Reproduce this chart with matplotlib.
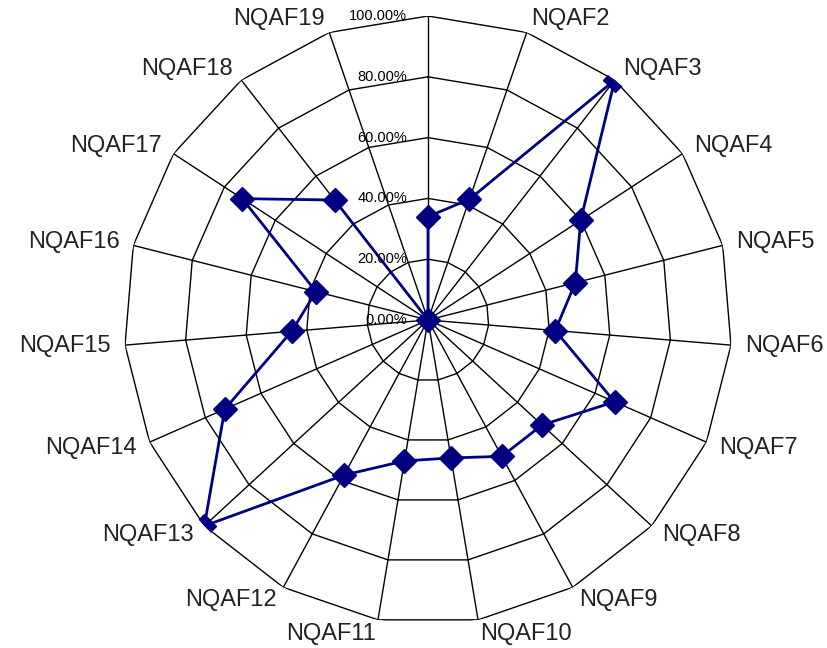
import numpy as np
import matplotlib
matplotlib.use("Agg")
import matplotlib.pyplot as plt

# Categories (clockwise from the top) and their scores
categories = ["NQAF1", "NQAF2", "NQAF3", "NQAF4", "NQAF5", "NQAF6", "NQAF7",
              "NQAF8", "NQAF9", "NQAF10", "NQAF11", "NQAF12", "NQAF13",
              "NQAF14", "NQAF15", "NQAF16", "NQAF17", "NQAF18", "NQAF19"]
values = [0.34, 0.42, 1.00, 0.60, 0.50, 0.42, 0.67, 0.51, 0.51, 0.46,
          0.47, 0.58, 1.00, 0.73, 0.45, 0.38, 0.73, 0.50, 0.00]
# The top category label is not shown
shown_labels = [""] + categories[1:]
ring_levels = [0.0, 0.2, 0.4, 0.6, 0.8, 1.0]
ring_labels = ["0.00%", "20.00%", "40.00%", "60.00%", "80.00%", "100.00%"]

W, H, DPI = 827, 648, 100
fig = plt.figure(figsize=(W / DPI, H / DPI), dpi=DPI)
cx, cy, R = 428, 320, 304
ax = fig.add_axes([(cx - R) / W, (H - cy - R) / H, 2 * R / W, 2 * R / H],
                  projection="polar")
ax.set_theta_zero_location("N")
ax.set_theta_direction(-1)
ax.set_ylim(0, 1.0)
ax.grid(False)
ax.set_xticks([])
ax.set_yticks([])
ax.spines["polar"].set_visible(False)
ax.patch.set_visible(False)

n = len(categories)
theta = np.arange(n) * 2 * np.pi / n
theta_closed = np.append(theta, theta[0])

# Polygonal rings
for lvl in ring_levels[1:]:
    ax.plot(theta_closed, [lvl] * (n + 1), color="black", lw=1.0, zorder=1)
# Spokes
for t in theta:
    ax.plot([t, t], [0, 1.0], color="black", lw=1.0, zorder=1)

# Ring value labels along the top spoke
for lvl, txt in zip(ring_levels, ring_labels):
    ax.annotate(txt, xy=(0, lvl), xytext=(-15, 0), textcoords="offset points",
                ha="right", va="center", fontsize=10.5, color="black",
                family="Liberation Sans", zorder=3)

# Category labels around the outside
for t, lab in zip(theta, shown_labels):
    if not lab:
        continue
    s, c = np.sin(t), np.cos(t)
    ha = "left" if s > 0.05 else ("right" if s < -0.05 else "center")
    ax.annotate(lab, xy=(t, 1.0), xytext=(10 * s, 10 * c),
                textcoords="offset points", ha=ha, va="center",
                fontsize=17, color="#222222", family="Liberation Sans",
                annotation_clip=False)

# Data series
vals_closed = np.append(values, values[0])
ax.plot(theta_closed, vals_closed, color="#000080", lw=2.0, zorder=4)
ax.plot(theta, values, linestyle="none", marker="D", markersize=12,
        color="#000080", zorder=5)

fig.savefig("out.png", dpi=DPI)
